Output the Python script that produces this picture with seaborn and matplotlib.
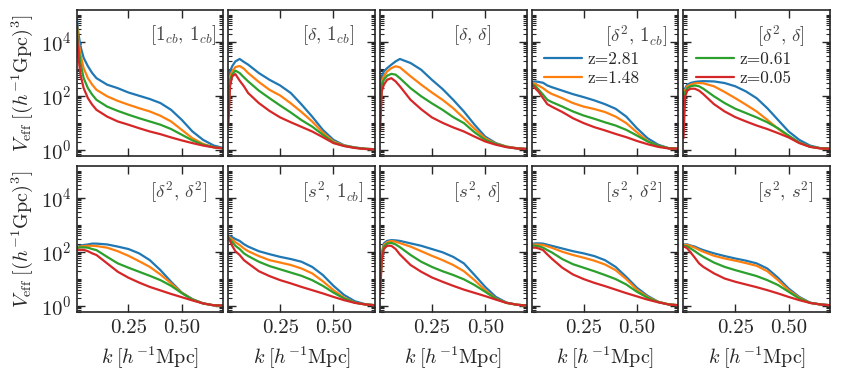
import numpy as np
import pandas as pd
import seaborn as sns
import matplotlib.pyplot as plt
from matplotlib.ticker import LogLocator, FixedLocator, NullFormatter
from matplotlib.lines import Line2D

# k grid [h/Mpc]
k = [0.007, 0.015, 0.025, 0.04, 0.06, 0.08, 0.1, 0.15, 0.2, 0.25,
     0.3, 0.35, 0.4, 0.45, 0.5, 0.55, 0.6, 0.65, 0.7]
redshifts = ["z=2.81", "z=1.48", "z=0.61", "z=0.05"]

# log10(V_eff) per panel, one row per redshift (2.81, 1.48, 0.61, 0.05)
logv_1cb_1cb = [
    [4.94, 4.32, 3.83, 3.40, 3.09, 2.84, 2.65, 2.41, 2.28, 2.12, 2.00, 1.88, 1.73, 1.48, 1.11, 0.68, 0.37, 0.16, 0.06],
    [4.81, 4.07, 3.52, 3.02, 2.65, 2.41, 2.22, 1.98, 1.81, 1.67, 1.54, 1.42, 1.26, 1.05, 0.74, 0.43, 0.22, 0.10, 0.05],
    [4.69, 3.83, 3.21, 2.65, 2.28, 2.04, 1.85, 1.60, 1.44, 1.30, 1.17, 1.05, 0.93, 0.77, 0.56, 0.35, 0.19, 0.10, 0.05],
    [4.57, 3.46, 2.78, 2.28, 1.91, 1.67, 1.48, 1.23, 1.05, 0.93, 0.80, 0.68, 0.58, 0.46, 0.35, 0.25, 0.16, 0.09, 0.05],
]
logv_d_1cb = [
    [1.80, 2.90, 3.09, 3.27, 3.36, 3.25, 3.15, 2.84, 2.59, 2.38, 2.10, 1.68, 1.23, 0.74, 0.37, 0.17, 0.09, 0.04, 0.02],
    [1.60, 2.72, 2.90, 3.06, 3.10, 3.00, 2.84, 2.51, 2.22, 2.01, 1.72, 1.40, 1.05, 0.64, 0.31, 0.16, 0.08, 0.04, 0.02],
    [1.30, 2.59, 2.78, 2.93, 2.84, 2.68, 2.53, 2.19, 1.91, 1.64, 1.38, 1.10, 0.86, 0.56, 0.27, 0.15, 0.08, 0.04, 0.02],
    [0.90, 2.35, 2.72, 2.80, 2.56, 2.35, 2.10, 1.73, 1.44, 1.20, 1.02, 0.85, 0.68, 0.47, 0.25, 0.14, 0.07, 0.03, 0.02],
]
logv_d_d = [
    [1.50, 2.72, 2.90, 3.02, 3.15, 3.27, 3.36, 3.21, 2.96, 2.59, 2.25, 1.85, 1.42, 0.93, 0.49, 0.25, 0.12, 0.06, 0.03],
    [1.30, 2.53, 2.72, 2.90, 3.02, 3.09, 3.05, 2.72, 2.41, 2.12, 1.85, 1.54, 1.17, 0.78, 0.43, 0.23, 0.12, 0.06, 0.03],
    [1.10, 2.41, 2.59, 2.74, 2.81, 2.78, 2.65, 2.28, 1.98, 1.72, 1.48, 1.21, 0.99, 0.65, 0.37, 0.22, 0.11, 0.05, 0.03],
    [0.70, 2.16, 2.41, 2.59, 2.65, 2.53, 2.35, 1.85, 1.50, 1.20, 1.00, 0.83, 0.68, 0.49, 0.31, 0.19, 0.10, 0.05, 0.03],
]
logv_d2_1cb = [
    [2.51, 2.52, 2.53, 2.51, 2.48, 2.38, 2.32, 2.19, 2.06, 1.95, 1.83, 1.69, 1.52, 1.23, 0.80, 0.43, 0.19, 0.06, 0.04],
    [2.47, 2.46, 2.43, 2.37, 2.28, 2.16, 2.07, 1.91, 1.73, 1.60, 1.51, 1.40, 1.23, 0.99, 0.65, 0.33, 0.15, 0.06, 0.04],
    [2.43, 2.40, 2.35, 2.22, 2.04, 1.85, 1.77, 1.60, 1.42, 1.27, 1.15, 1.02, 0.90, 0.74, 0.53, 0.31, 0.15, 0.06, 0.04],
    [2.41, 2.35, 2.26, 2.14, 1.91, 1.69, 1.60, 1.40, 1.17, 0.99, 0.84, 0.72, 0.59, 0.47, 0.33, 0.21, 0.11, 0.05, 0.04],
]
logv_d2_d = [
    [1.91, 2.28, 2.41, 2.47, 2.51, 2.53, 2.54, 2.53, 2.47, 2.35, 2.16, 1.91, 1.54, 1.11, 0.68, 0.37, 0.16, 0.06, 0.04],
    [1.79, 2.22, 2.35, 2.41, 2.46, 2.47, 2.46, 2.35, 2.14, 1.91, 1.67, 1.42, 1.11, 0.78, 0.49, 0.27, 0.12, 0.06, 0.04],
    [1.67, 2.14, 2.28, 2.35, 2.38, 2.35, 2.26, 1.98, 1.73, 1.52, 1.36, 1.20, 1.02, 0.80, 0.53, 0.27, 0.12, 0.06, 0.04],
    [0.43, 1.98, 2.19, 2.26, 2.26, 2.19, 2.06, 1.69, 1.42, 1.21, 1.05, 0.90, 0.77, 0.62, 0.46, 0.25, 0.11, 0.05, 0.04],
]
logv_d2_d2 = [
    [2.15, 2.19, 2.22, 2.25, 2.27, 2.30, 2.30, 2.27, 2.19, 2.10, 1.94, 1.69, 1.32, 0.89, 0.49, 0.25, 0.09, 0.02, 0.01],
    [2.15, 2.17, 2.19, 2.21, 2.22, 2.22, 2.21, 2.15, 2.02, 1.85, 1.65, 1.44, 1.16, 0.83, 0.48, 0.24, 0.09, 0.02, 0.01],
    [2.12, 2.15, 2.16, 2.16, 2.15, 2.10, 2.06, 1.81, 1.57, 1.41, 1.26, 1.11, 0.95, 0.74, 0.47, 0.23, 0.09, 0.02, 0.01],
    [2.06, 2.07, 2.07, 2.07, 2.02, 1.94, 1.88, 1.57, 1.26, 1.04, 0.86, 0.70, 0.57, 0.44, 0.32, 0.20, 0.09, 0.02, 0.01],
]
logv_s2_1cb = [
    [2.59, 2.58, 2.54, 2.47, 2.40, 2.28, 2.19, 2.02, 1.91, 1.81, 1.73, 1.63, 1.44, 1.14, 0.74, 0.40, 0.17, 0.06, 0.02],
    [2.56, 2.52, 2.46, 2.35, 2.25, 2.12, 2.02, 1.84, 1.69, 1.60, 1.51, 1.38, 1.20, 0.91, 0.58, 0.30, 0.12, 0.05, 0.02],
    [2.52, 2.46, 2.36, 2.22, 2.10, 1.94, 1.84, 1.63, 1.47, 1.35, 1.23, 1.11, 0.95, 0.74, 0.49, 0.27, 0.12, 0.05, 0.02],
    [2.49, 2.40, 2.22, 2.02, 1.88, 1.69, 1.57, 1.28, 1.10, 0.95, 0.83, 0.70, 0.58, 0.46, 0.33, 0.21, 0.11, 0.05, 0.02],
]
logv_s2_d = [
    [0.64, 1.94, 2.31, 2.40, 2.43, 2.42, 2.40, 2.31, 2.22, 2.10, 1.98, 1.81, 1.57, 1.14, 0.70, 0.33, 0.12, 0.04, 0.01],
    [0.58, 1.88, 2.25, 2.35, 2.40, 2.37, 2.32, 2.19, 2.02, 1.85, 1.69, 1.51, 1.28, 0.95, 0.58, 0.27, 0.11, 0.04, 0.01],
    [0.52, 1.81, 2.19, 2.30, 2.33, 2.27, 2.17, 1.88, 1.63, 1.44, 1.28, 1.14, 0.98, 0.77, 0.52, 0.26, 0.11, 0.04, 0.01],
    [0.40, 1.69, 2.10, 2.22, 2.22, 2.10, 1.90, 1.51, 1.26, 1.05, 0.89, 0.74, 0.60, 0.48, 0.36, 0.23, 0.11, 0.04, 0.01],
]
logv_s2_d2 = [
    [2.27, 2.30, 2.31, 2.31, 2.30, 2.26, 2.22, 2.12, 2.02, 1.94, 1.84, 1.69, 1.44, 1.07, 0.67, 0.37, 0.15, 0.05, 0.02],
    [2.25, 2.26, 2.27, 2.26, 2.25, 2.20, 2.15, 2.00, 1.88, 1.78, 1.67, 1.53, 1.32, 0.99, 0.60, 0.33, 0.15, 0.05, 0.02],
    [2.22, 2.22, 2.22, 2.20, 2.15, 2.06, 1.98, 1.73, 1.54, 1.41, 1.28, 1.14, 0.99, 0.79, 0.52, 0.30, 0.14, 0.05, 0.02],
    [2.15, 2.15, 2.15, 2.12, 2.06, 1.90, 1.75, 1.41, 1.16, 0.99, 0.85, 0.73, 0.60, 0.47, 0.35, 0.23, 0.13, 0.05, 0.02],
]
logv_s2_s2 = [
    [2.27, 2.27, 2.27, 2.23, 2.19, 2.12, 2.06, 1.94, 1.84, 1.75, 1.67, 1.57, 1.38, 1.04, 0.64, 0.33, 0.12, 0.05, 0.02],
    [2.25, 2.25, 2.25, 2.21, 2.15, 2.07, 2.00, 1.85, 1.75, 1.67, 1.58, 1.48, 1.28, 0.95, 0.58, 0.30, 0.11, 0.05, 0.02],
    [2.22, 2.21, 2.20, 2.12, 2.02, 1.91, 1.81, 1.60, 1.44, 1.32, 1.21, 1.10, 0.95, 0.77, 0.52, 0.27, 0.11, 0.05, 0.02],
    [2.19, 2.17, 2.12, 1.98, 1.78, 1.57, 1.44, 1.20, 1.01, 0.89, 0.79, 0.69, 0.58, 0.46, 0.33, 0.21, 0.11, 0.05, 0.02],
]

panel_labels = [r"$[1_{cb},\,1_{cb}]$", r"$[\delta,\,1_{cb}]$", r"$[\delta,\,\delta]$",
                r"$[\delta^2,\,1_{cb}]$", r"$[\delta^2,\,\delta]$",
                r"$[\delta^2,\,\delta^2]$", r"$[s^2,\,1_{cb}]$", r"$[s^2,\,\delta]$",
                r"$[s^2,\,\delta^2]$", r"$[s^2,\,s^2]$"]
panel_data = [logv_1cb_1cb, logv_d_1cb, logv_d_d, logv_d2_1cb, logv_d2_d,
              logv_d2_d2, logv_s2_1cb, logv_s2_d, logv_s2_d2, logv_s2_s2]

rows = []
for p, block in enumerate(panel_data):
    for z, vals in zip(redshifts, block):
        for kk, lv in zip(k, vals):
            rows.append([p, z, kk, 10 ** lv])
df = pd.DataFrame(rows, columns=["panel", "z", "k", "Veff"])

# style
sns.set_style("ticks")
plt.rcParams["font.family"] = "serif"
plt.rcParams["font.serif"] = ["cmr10", "DejaVu Serif"]
plt.rcParams["mathtext.fontset"] = "cm"
plt.rcParams["axes.formatter.use_mathtext"] = True
plt.rcParams["axes.unicode_minus"] = False
palette = dict(zip(redshifts, ["#1f77b4", "#ff7f0e", "#2ca02c", "#d62728"]))

fig, axes = plt.subplots(2, 5, figsize=(8.42, 3.78), dpi=100, sharex=True, sharey=True)
fig.subplots_adjust(left=0.091, right=0.986, top=0.974, bottom=0.175, wspace=0.034, hspace=0.068)

for p, ax in enumerate(axes.flat):
    sns.lineplot(data=df[df.panel == p], x="k", y="Veff", hue="z", hue_order=redshifts,
                 palette=palette, linewidth=1.6, legend=False, ax=ax)
    ax.set_yscale("log")
    ax.set_xlim(0.007, 0.695)
    ax.set_ylim(0.6, 1.5e5)
    ax.xaxis.set_major_locator(FixedLocator([0.25, 0.5]))
    ax.yaxis.set_major_locator(FixedLocator([1, 1e2, 1e4]))
    ax.yaxis.set_minor_locator(LogLocator(base=10, subs=np.arange(1, 10), numticks=30))
    ax.yaxis.set_minor_formatter(NullFormatter())
    ax.tick_params(which="both", direction="in", top=True, right=True, labelsize=15)
    ax.tick_params(axis="x", pad=5.5)
    ax.tick_params(which="major", length=6, width=1)
    ax.tick_params(which="minor", length=3, width=0.8)
    for s in ax.spines.values():
        s.set_linewidth(1.2)
    ax.text(0.5, 0.91, panel_labels[p], transform=ax.transAxes, ha="left", va="top",
            fontsize=13.5, color="#444444")
    ax.set_xlabel("")
    ax.set_ylabel("")

for ax in axes[1]:
    ax.set_xlabel(r"$k\;[h^{-1}{\rm Mpc}]$", fontsize=14.5, labelpad=5)
    ax.xaxis.set_major_formatter(plt.FormatStrFormatter("%.2f"))
for ax in axes[:, 0]:
    ax.set_ylabel(r"$V_{\rm eff}\;[(h^{-1}{\rm Gpc})^3]$", fontsize=14.5)

handles = [Line2D([], [], color=palette[z], lw=1.6) for z in redshifts]
for ax, h, lab in [(axes[0, 3], handles[:2], redshifts[:2]), (axes[0, 4], handles[2:], redshifts[2:])]:
    ax.legend(h, lab, loc="upper left", bbox_to_anchor=(0.0, 0.795), frameon=False,
              fontsize=12.5, handlelength=2.2, handletextpad=0.3, labelspacing=0.2,
              borderaxespad=0.3)

plt.savefig("out.png", dpi=100)
plt.close()
